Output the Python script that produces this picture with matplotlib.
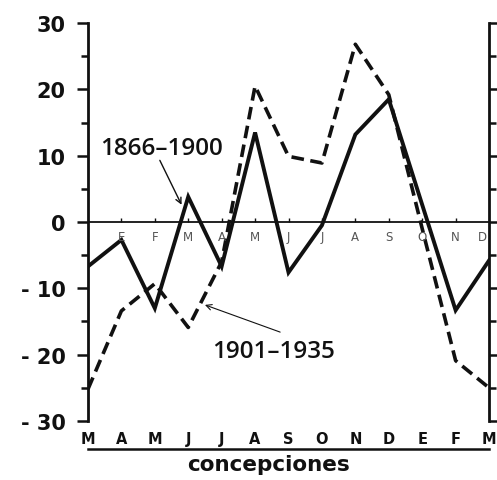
import numpy as np
import matplotlib
matplotlib.use("Agg")
import matplotlib.pyplot as plt
import matplotlib.transforms as mtransforms

plt.rcParams['font.family'] = ['DejaVu Sans']

# conception months (bottom) and birth months (inside, on the zero line)
conc_months = ['M', 'A', 'M', 'J', 'J', 'A', 'S', 'O', 'N', 'D', 'E', 'F', 'M']
birth_months = ['E', 'F', 'M', 'A', 'M', 'J', 'J', 'A', 'S', 'O', 'N', 'D']

# deviations per month
dev_1866_1900 = [-6.7, -2.7, -13.0, 3.8, -6.7, 13.5, -7.6, -0.5, 13.2, 18.5, 2.6, -13.3, -5.8]
dev_1901_1935 = [-25.2, -13.4, -9.3, -15.9, -6.0, 20.5, 9.9, 8.9, 26.8, 19.2, -1.0, -20.9, -25.0]

y_ticks = [30, 20, 10, 0, -10, -20, -30]
y_tick_labels = ['30', '20', '10', '0', '- 10', '- 20', '- 30']

ink = '#111111'

fig = plt.figure(figsize=(4.97, 4.81), dpi=100)
ax = fig.add_axes([0.177, 0.1227, 0.807, 0.8273])

x = np.arange(len(conc_months))
ax.plot(x, dev_1866_1900, color=ink, lw=2.8, solid_joinstyle='miter')
ax.plot(x, dev_1901_1935, color=ink, lw=2.6, ls=(0, (3.5, 1.8)))

ax.axhline(0, color=ink, lw=1.3)
ax.plot(x[1:-1], np.zeros(len(x) - 2), ls='none', marker=2, ms=3,
        color=ink, mew=1.0)
for i, lab in enumerate(birth_months):
    xi = i + 1 if i < len(birth_months) - 1 else i + 0.8
    ax.text(xi, -2.2, lab, ha='center', va='center', fontsize=8.5,
            color='#555555')

ax.set_xlim(0, 12)
ax.set_ylim(-30, 30)

for side in ['top', 'bottom']:
    ax.spines[side].set_visible(False)
for side in ['left', 'right']:
    ax.spines[side].set_linewidth(2.0)
    ax.spines[side].set_color(ink)

ax.set_yticks(y_ticks)
ax.set_yticklabels(y_tick_labels, fontsize=15, fontweight='bold')
ax.set_yticks(np.arange(-25, 30, 10), minor=True)
ax.yaxis.set_ticks_position('both')
ax.tick_params(axis='y', which='major', length=8, width=1.8, direction='out',
               colors=ink, pad=8, right=True, labelright=False)
ax.tick_params(axis='y', which='minor', length=5, width=1.8, direction='out',
               colors=ink, right=True)

ax.set_xticks(x)
ax.set_xticklabels(conc_months, fontsize=10.5, fontweight='bold')
ax.tick_params(axis='x', length=0, pad=7, colors=ink)

trans = mtransforms.blended_transform_factory(ax.transData, ax.transAxes)
ax.plot([0, 12], [-0.07, -0.07], color=ink, lw=1.8, transform=trans,
        clip_on=False)
ax.text(5.4, -0.108, 'concepciones', transform=trans, ha='center',
        va='center', fontsize=15.5, fontweight='bold', color=ink)

label_font = dict(family='Open Sans', fontsize=17.5, fontweight='semibold',
                  color=ink, va='center')
ax.text(0.36, 11.2, '1866\u20131900', **label_font)
ax.annotate('', xy=(2.8, 2.6), xytext=(2.15, 9.3),
            arrowprops=dict(arrowstyle='->', color=ink, lw=1.0,
                            shrinkA=0, shrinkB=0))
ax.annotate('', xy=(3.5, -12.5), xytext=(5.75, -16.6),
            arrowprops=dict(arrowstyle='->', color=ink, lw=0.8,
                            shrinkA=0, shrinkB=0))
ax.text(3.7, -19.4, '1901\u20131935', **label_font)

fig.savefig('out.png', dpi=100)
